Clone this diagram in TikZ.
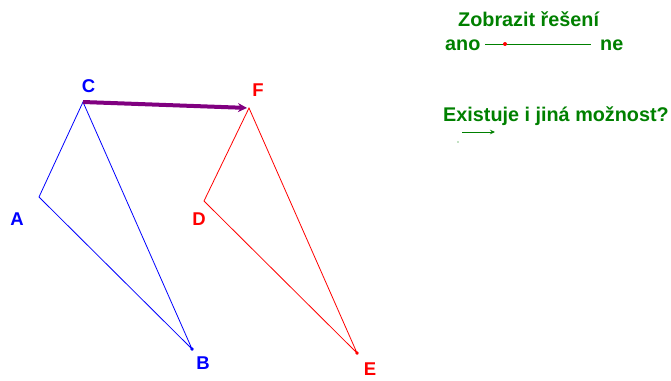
\documentclass[tikz,border=0pt]{standalone}
\usepackage{fontspec}
\setmainfont{Liberation Sans}
\usetikzlibrary{arrows.meta}
\definecolor{vecpurple}{RGB}{128,0,128}
\definecolor{dgreen}{RGB}{0,128,0}

\begin{document}
\begin{tikzpicture}[x=1pt,y=-1pt,
        lbl/.style={font=\fontsize{18.5}{20}\selectfont\bfseries, inner sep=0pt},
        txt/.style={font=\fontsize{19.8}{22}\selectfont\bfseries, inner sep=0pt, text=dgreen, anchor=base west}]
        \useasboundingbox (0,0) rectangle (671,380);

        % Vertices
        \coordinate (A) at (39,197);
        \coordinate (B) at (192,349);
        \coordinate (C) at (83,102);
        \coordinate (D) at (204,201);
        \coordinate (E) at (357,353);
        \coordinate (F) at (249,108);

        % Triangles
        \draw[blue, line width=0.8pt] (A) -- (B) -- (C) -- cycle;
        \draw[red, line width=0.8pt] (D) -- (E) -- (F) -- cycle;
        \fill[blue] (B) circle (1.8pt);
        \fill[red] (E) circle (1.8pt);

        % Translation vector
        \draw[vecpurple, line width=4pt, -{Stealth[length=9pt,width=9pt]}, shorten >=2pt] (C) -- (F);

        % Vertex labels
        \node[lbl, blue] (lblA) at (17,219) {A};
        \node[lbl, blue] (lblB) at (203,363) {B};
        \node[lbl, blue] (lblC) at (88.5,86) {C};
        \node[lbl, red] (lblD) at (199,219.5) {D};
        \node[lbl, red] (lblE) at (370,369) {E};
        \node[lbl, red] (lblF) at (258,90) {F};

        % Slider
        \node[txt] (zobrazit) at (458,27) {Zobrazit řešení};
        \node[txt] (ano) at (445,50) {ano};
        \node[txt] (ne) at (600,50) {ne};
        \coordinate (s1) at (485,44);
        \coordinate (s2) at (591,44);
        \draw[dgreen, line width=1pt] (s1) -- (s2);
        \fill[red] (505,44) circle (2pt);

        % Other solution
        \node[txt] (existuje) at (443,121) {Existuje i jiná možnost?};
        \coordinate (a1) at (462,132);
        \coordinate (a2) at (495,132);
        \draw[dgreen, line width=0.9pt, -{Stealth[length=5pt,width=4.5pt]}] (a1) -- (a2);
        \fill[dgreen] (458,142) circle (0.7pt);
\end{tikzpicture}
\end{document}
